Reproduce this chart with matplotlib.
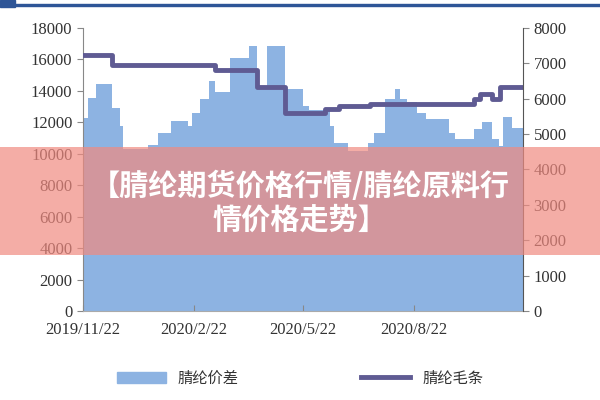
import matplotlib
matplotlib.use("Agg")
import matplotlib.pyplot as plt
import pandas as pd
from matplotlib.patches import Rectangle
from matplotlib.lines import Line2D

plt.rcParams['font.family'] = ['Noto Sans CJK SC', 'DejaVu Sans']

spread_dates = ["2019-11-22","2019-11-26","2019-12-03","2019-12-16","2019-12-23","2019-12-25",
    "2020-01-15","2020-01-23","2020-02-03","2020-02-17","2020-02-20","2020-02-27","2020-03-05",
    "2020-03-10","2020-03-23","2020-04-07","2020-04-14","2020-04-22","2020-05-07","2020-05-22",
    "2020-05-27","2020-06-13","2020-06-17","2020-06-28","2020-07-15","2020-07-20","2020-07-29",
    "2020-08-06","2020-08-10","2020-08-16","2020-08-24","2020-09-01","2020-09-20","2020-09-25",
    "2020-10-10","2020-10-17","2020-10-25","2020-10-31","2020-11-03","2020-11-11","2020-11-20"]
spread_values = [12270,13550,14440,12900,11770,10300,10560,11330,12090,11770,12600,13490,14630,
    13930,16090,16860,14250,16860,14120,13040,12780,11770,10690,10200,10690,11330,13490,
    14120,13490,13300,12600,12200,11330,10940,11580,12030,10940,10500,12330,11640,11640]

yarn_dates = ["2019-11-22","2019-12-16","2020-03-10","2020-04-14","2020-05-07","2020-06-09",
    "2020-06-21","2020-07-16","2020-10-10","2020-10-15","2020-10-25","2020-11-01","2020-11-20"]
yarn_values = [7250,6950,6800,6330,5600,5710,5800,5850,5980,6130,5980,6330,6330]

xticks = ["2019-11-22","2020-02-22","2020-05-22","2020-08-22"]
xtick_labels = ["2019/11/22","2020/2/22","2020/5/22","2020/8/22"]

sd = pd.to_datetime(spread_dates)
yd = pd.to_datetime(yarn_dates)

fig = plt.figure(figsize=(6,4), dpi=100)
ax = fig.add_axes([0.138, 0.2225, 0.734, 0.7075])
area_c = '#8db3e2'
line_c = '#5f5b93'
ax.fill_between(sd, spread_values, step='post', color=area_c, lw=0)
ax.set_ylim(0, 18000)
ax.set_yticks(range(0, 18001, 2000))
ax.set_xlim(sd[0], sd[-1])
ax.set_xticks(pd.to_datetime(xticks))
ax.set_xticklabels(xtick_labels)
ax2 = ax.twinx()
ax2.step(yd, yarn_values, where='post', color=line_c, lw=3.5)
ax2.set_ylim(0, 8000)
ax2.set_yticks(range(0, 8001, 1000))
for a in (ax, ax2):
    for s in a.spines.values():
        s.set_visible(False)
    a.tick_params(labelsize=12, colors='#333333', length=4, color='#888888')
    for t in a.get_xticklabels() + a.get_yticklabels():
        t.set_fontfamily('Liberation Serif')
ax.spines['bottom'].set_visible(True); ax.spines['bottom'].set_color('#aaaaaa')
ax.spines['left'].set_visible(True); ax.spines['left'].set_color('#888888')
ax2.spines['right'].set_visible(True); ax2.spines['right'].set_color('#555555')
ax.tick_params(axis='x', direction='in', pad=8)

handles = [Rectangle((0,0),1,1,color=area_c), Line2D([0],[0],color=line_c,lw=3.5)]
fig.legend(handles, ['腈纶价差','腈纶毛条'], loc='center', bbox_to_anchor=(0.5, 0.055),
           ncol=2, frameon=False, fontsize=11, columnspacing=8, handlelength=3.2,
           labelcolor='#333333')

fig.add_artist(Rectangle((0.0, 0.985), 1, 0.006, transform=fig.transFigure, color='#2e5597'))
fig.add_artist(Rectangle((0.0, 0.982), 0.025, 0.018, transform=fig.transFigure, color='#2e5597'))
fig.add_artist(Rectangle((0, 0.3625), 1, 0.27, transform=fig.transFigure,
                         color='#f08a80', alpha=0.7, lw=0, zorder=10))
fig.text(0.5, 0.535, '【腈纶期货价格行情/腈纶原料行', ha='center', va='center',
         color='white', fontsize=21, fontweight='bold', zorder=11)
fig.text(0.5, 0.452, '情价格走势】', ha='center', va='center',
         color='white', fontsize=21, fontweight='bold', zorder=11)
fig.savefig('out.png', dpi=100)
